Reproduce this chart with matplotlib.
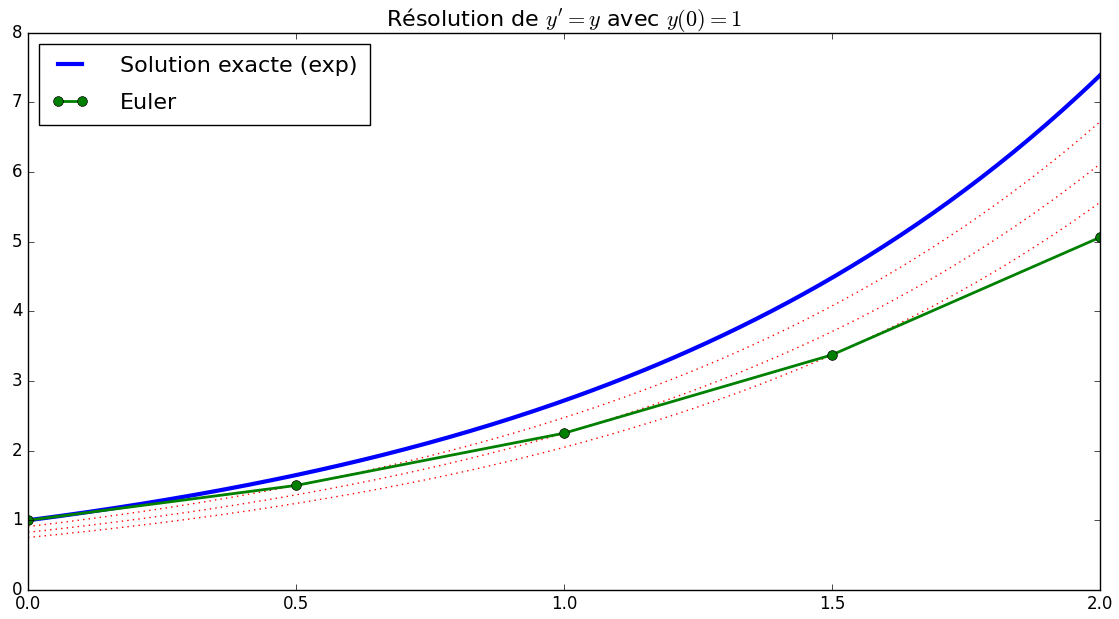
import numpy as np
import matplotlib
matplotlib.use('Agg')
import matplotlib.pyplot as plt

plt.style.use('classic')

# Euler steps (h = 0.5)
x_euler = [0.0, 0.5, 1.0, 1.5, 2.0]
y_euler = [1.0, 1.5, 2.25, 3.375, 5.0625]

# exact solution y = exp(x) on [0, 2]
x = np.linspace(0, 2, 200)

fig = plt.figure(figsize=(11.19, 6.19), dpi=100)
ax = fig.add_axes([0.025, 0.047, 0.958, 0.9])

ax.plot(x, np.exp(x), color='blue', linewidth=3, label='Solution exacte (exp)')

# local exact solutions through the intermediate Euler points
for xk, yk in zip(x_euler[1:-1], y_euler[1:-1]):
    ax.plot(x, yk * np.exp(x - xk), color='red', linestyle=':', linewidth=1)

ax.plot(x_euler, y_euler, color='green', marker='o', linewidth=2,
        markersize=7, label='Euler')

ax.set_xlim(0, 2)
ax.set_ylim(0, 8)
ax.set_xticks([0.0, 0.5, 1.0, 1.5, 2.0])
ax.set_title("Résolution de $y'=y$ avec $y(0)=1$", fontsize=16)
ax.legend(loc='upper left', fontsize=16, numpoints=2, borderpad=0.55,
          handlelength=1.7, handletextpad=1.4, labelspacing=0.75)

plt.savefig('out.png', dpi=100)
